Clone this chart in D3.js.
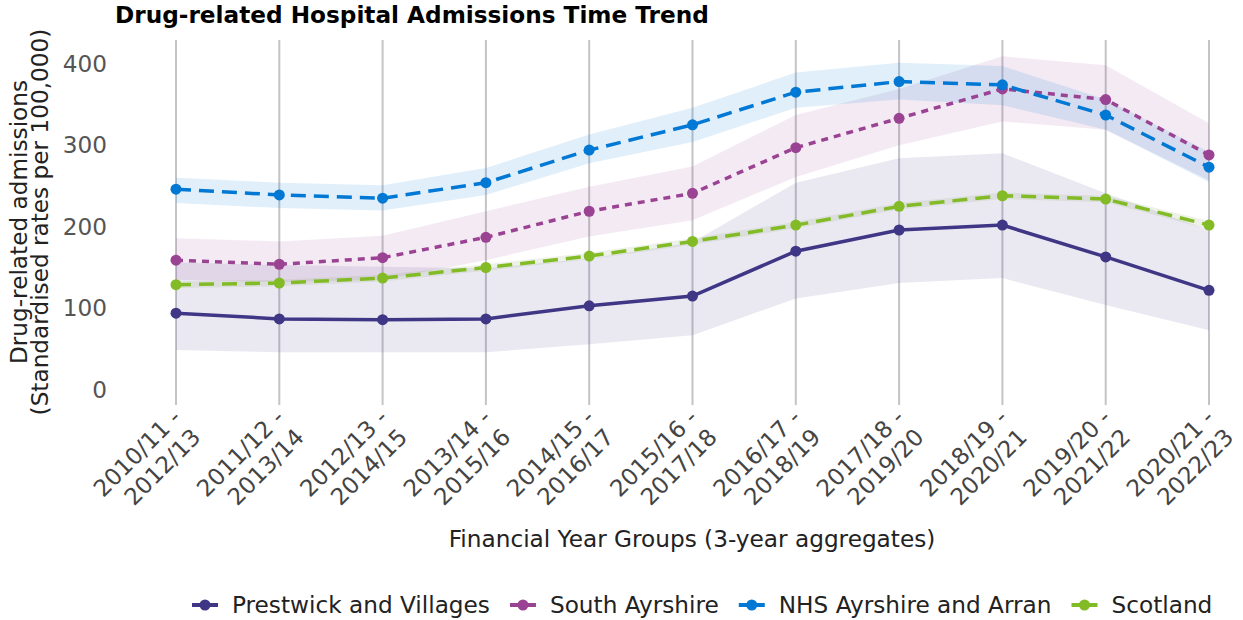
<!DOCTYPE html>
<html>
<head>
<meta charset="utf-8">
<script src="https://cdn.jsdelivr.net/npm/d3@7"></script>
<style>
  html, body { margin: 0; padding: 0; background: #fff; }
  svg { display: block; font-family: "DejaVu Sans", sans-serif; }
</style>
</head>
<body>
<svg id="chart" width="1243" height="620"></svg>
<script>
// ---- Data ----
const categories = ["2010/11 - 2012/13", "2011/12 - 2013/14", "2012/13 - 2014/15", "2013/14 - 2015/16",
  "2014/15 - 2016/17", "2015/16 - 2017/18", "2016/17 - 2018/19", "2017/18 - 2019/20",
  "2018/19 - 2020/21", "2019/20 - 2021/22", "2020/21 - 2022/23"];

const seriesNames = ["Prestwick and Villages", "South Ayrshire", "NHS Ayrshire and Arran", "Scotland"];

const prestwick      = [93, 86, 85, 86, 102, 114, 169, 195, 201, 162, 121];
const prestwickLower = [48, 45, 45, 45, 55, 66, 111, 130, 136, 103, 72];
const prestwickUpper = [155, 152, 150, 148, 160, 180, 253, 283, 289, 240, 195];

const southAyrshire      = [158, 153, 161, 186, 218, 240, 296, 332, 368, 355, 287];
const southAyrshireLower = [134, 131, 134, 158, 187, 207, 260, 299, 328, 318, 256];
const southAyrshireUpper = [185, 181, 188, 218, 248, 273, 336, 368, 408, 397, 326];

const nhsAA      = [245, 238, 234, 253, 293, 324, 364, 377, 373, 336, 272];
const nhsAALower = [228, 222, 219, 238, 277, 303, 345, 355, 348, 318, 254];
const nhsAAUpper = [259, 253, 250, 271, 312, 345, 388, 400, 396, 355, 291];

const scotland      = [128, 130, 136, 149, 163, 181, 201, 224, 237, 233, 201];
const scotlandLower = [124, 126, 132, 145, 159, 177, 197, 220, 233, 229, 196];
const scotlandUpper = [132, 134, 140, 153, 167, 185, 205, 228, 241, 237, 206];

const yTicks = [0, 100, 200, 300, 400];

const colors = ["#3F3685", "#9B4393", "#0078D4", "#83BB26"];
const bandColors = ["#3F3685", "#9B4393", "#0078D4", "#8FA66A"];
const dashes = [null, "7,6", "15,8", "15,8"];
const bandOpacity = [0.11, 0.11, 0.12, 0.16];

const series = [
  { name: seriesNames[0], values: prestwick, lower: prestwickLower, upper: prestwickUpper },
  { name: seriesNames[1], values: southAyrshire, lower: southAyrshireLower, upper: southAyrshireUpper },
  { name: seriesNames[2], values: nhsAA, lower: nhsAALower, upper: nhsAAUpper },
  { name: seriesNames[3], values: scotland, lower: scotlandLower, upper: scotlandUpper }
];

// ---- Layout ----
const FS = 23.2;
const svg = d3.select("#chart");
const plotTop = 40, plotBottom = 405;

const x = d3.scalePoint().domain(categories).range([176, 1209]);
const y = d3.scaleLinear().domain([-19.6, 428]).range([plotBottom, plotTop]);

// gridlines (vertical)
svg.append("g").selectAll("line").data(categories).join("line")
  .attr("x1", d => x(d)).attr("x2", d => x(d))
  .attr("y1", plotTop).attr("y2", plotBottom)
  .attr("stroke", "#c4c4c8").attr("stroke-width", 2);

// bands
const area = d3.area().x((d, i) => x(categories[i])).y0(d => y(d[0])).y1(d => y(d[1]));
series.forEach((s, k) => {
  const pts = s.lower.map((l, i) => [l, s.upper[i]]);
  svg.append("path").datum(pts).attr("d", area)
    .attr("fill", bandColors[k]).attr("fill-opacity", bandOpacity[k]);
});

// lines + points
const line = d3.line().x((d, i) => x(categories[i])).y(d => y(d));
series.forEach((s, k) => {
  svg.append("path").datum(s.values).attr("d", line)
    .attr("fill", "none").attr("stroke", colors[k]).attr("stroke-width", 3.5)
    .attr("stroke-dasharray", dashes[k]);
  svg.append("g").selectAll("circle").data(s.values).join("circle")
    .attr("cx", (d, i) => x(categories[i])).attr("cy", d => y(d))
    .attr("r", 5.5).attr("fill", colors[k]);
});

// y axis
const yAxis = d3.axisLeft(y).tickValues(yTicks).tickSize(0).tickPadding(0);
const gy = svg.append("g").attr("transform", "translate(107,0)").call(yAxis);
gy.select(".domain").remove();
gy.selectAll("text").attr("font-size", FS).attr("fill", "#555").attr("font-family", "DejaVu Sans").attr("dy", "0.36em");

// x axis tick labels (two lines, rotated)
const xAxis = d3.axisBottom(x).tickSize(0).tickFormat("");
const gx = svg.append("g").attr("transform", `translate(0,${plotBottom})`).call(xAxis);
gx.select(".domain").remove();
gx.selectAll(".tick").each(function(d) {
  const parts = d.split(" - ");
  const t = d3.select(this).append("text")
    .attr("transform", "translate(6,14) rotate(-45)")
    .attr("text-anchor", "end").attr("font-size", FS).attr("fill", "#444")
    .attr("font-family", "DejaVu Sans");
  t.append("tspan").attr("x", 0).attr("dy", 0).text(parts[0] + " -");
  t.append("tspan").attr("x", 0).attr("dy", "1.19em").text(parts[1]);
});

// title
svg.append("text").attr("x", 115).attr("y", 23)
  .attr("font-size", FS).attr("font-weight", "bold").attr("fill", "#000")
  .text("Drug-related Hospital Admissions Time Trend");

// axis titles
svg.append("text").attr("x", 692).attr("y", 547).attr("text-anchor", "middle")
  .attr("font-size", FS).attr("fill", "#222")
  .text("Financial Year Groups (3-year aggregates)");

const yt = svg.append("text").attr("transform", "translate(27,222) rotate(-90)")
  .attr("text-anchor", "middle").attr("font-size", FS).attr("fill", "#222");
yt.append("tspan").attr("x", 0).attr("dy", 0).text("Drug-related admissions");
yt.append("tspan").attr("x", 0).attr("dy", 21).text("(Standardised rates per 100,000)");

// legend
const lg = svg.append("g");
let lx = 192;
const ly = 605;
series.forEach((s, k) => {
  const g = lg.append("g");
  g.append("line").attr("x1", lx).attr("x2", lx + 26).attr("y1", ly).attr("y2", ly)
    .attr("stroke", colors[k]).attr("stroke-width", 4);
  g.append("circle").attr("cx", lx + 13).attr("cy", ly).attr("r", 5.5).attr("fill", colors[k]);
  const t = g.append("text").attr("x", lx + 40).attr("y", ly + 8)
    .attr("font-size", FS).attr("fill", "#222").text(s.name);
  const w = t.node().getComputedTextLength();
  lx = lx + 40 + w + 20;
});
</script>
</body>
</html>
